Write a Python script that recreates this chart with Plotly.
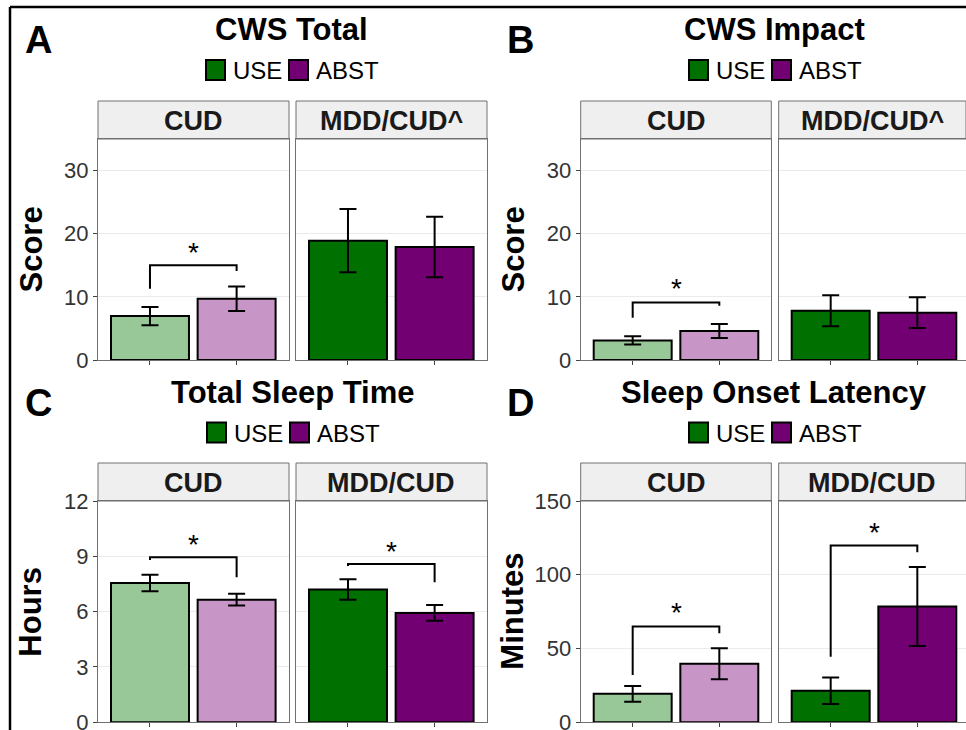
import plotly.graph_objects as go

W, H = 966, 730
FONT = "Liberation Sans, Arial, sans-serif"

# ---- data -------------------------------------------------------------
groups = ["USE", "ABST"]
x_pos = [1, 2]

# Panel A: CWS Total (score)
cws_total_cud = [6.95, 9.7]
cws_total_cud_se = [1.45, 1.95]
cws_total_mdd = [18.9, 17.9]
cws_total_mdd_se = [5.0, 4.8]

# Panel B: CWS Impact (score)
cws_impact_cud = [3.1, 4.6]
cws_impact_cud_se = [0.65, 1.1]
cws_impact_mdd = [7.8, 7.5]
cws_impact_mdd_se = [2.45, 2.45]

# Panel C: Total Sleep Time (hours)
tst_cud = [7.55, 6.65]
tst_cud_se = [0.45, 0.32]
tst_mdd = [7.2, 5.93]
tst_mdd_se = [0.56, 0.43]

# Panel D: Sleep Onset Latency (minutes)
sol_cud = [19.3, 39.7]
sol_cud_se = [5.3, 10.5]
sol_mdd = [21.4, 78.5]
sol_mdd_se = [9.0, 26.7]

# significance brackets: (left leg end, bar height, right leg end, star y)
sig_a_cud = [11.3, 15.0, 14.1, 18.0]
sig_b_cud = [6.7, 9.1, 8.6, 12.2]
sig_c_cud = [8.8, 8.95, 7.87, 9.95]
sig_c_mdd = [8.48, 8.59, 7.6, 9.6]
sig_d_cud = [32.1, 64.9, 60.4, 78.5]
sig_d_mdd = [44.5, 119.8, 115.3, 132.7]

y_ticks_score = [0, 10, 20, 30]
y_ticks_hours = [0, 3, 6, 9, 12]
y_ticks_min = [0, 50, 100, 150]

# ---- styling ----------------------------------------------------------
light_cols = ["#99C898", "#C896C6"]
dark_cols = ["#007000", "#730073"]
key_cols = dark_cols

def px(x):
    return x / W

def py(y):
    return 1 - y / H

col_left = [(98, 289), (296, 487)]
col_right = [(580.7, 771.3), (778.7, 966)]
row_top = (139, 360)
row_bot = (501, 722.3)
row_shift = 362.5

panels = [
    dict(letter="A", title="CWS Total", ylab="Score", strips=["CUD", "MDD/CUD^"],
         yr=[0, 35], ticks=y_ticks_score, cols=col_left, row=row_top, shift=0,
         vals=[(cws_total_cud, cws_total_cud_se), (cws_total_mdd, cws_total_mdd_se)],
         sig=[sig_a_cud, None], letter_x=38, title_x=291, ylab_x=31),
    dict(letter="B", title="CWS Impact", ylab="Score", strips=["CUD", "MDD/CUD^"],
         yr=[0, 35], ticks=y_ticks_score, cols=col_right, row=row_top, shift=0,
         vals=[(cws_impact_cud, cws_impact_cud_se), (cws_impact_mdd, cws_impact_mdd_se)],
         sig=[sig_b_cud, None], letter_x=520, title_x=774, ylab_x=513),
    dict(letter="C", title="Total Sleep Time", ylab="Hours", strips=["CUD", "MDD/CUD"],
         yr=[0, 12], ticks=y_ticks_hours, cols=col_left, row=row_bot, shift=row_shift,
         vals=[(tst_cud, tst_cud_se), (tst_mdd, tst_mdd_se)],
         sig=[sig_c_cud, sig_c_mdd], letter_x=38, title_x=292, ylab_x=31),
    dict(letter="D", title="Sleep Onset Latency", ylab="Minutes", strips=["CUD", "MDD/CUD"],
         yr=[0, 150], ticks=y_ticks_min, cols=col_right, row=row_bot, shift=row_shift,
         vals=[(sol_cud, sol_cud_se), (sol_mdd, sol_mdd_se)],
         sig=[sig_d_cud, sig_d_mdd], letter_x=520, title_x=774, ylab_x=513),
]

UNIT_PX = 190.6 / 2.2  # pixels per x unit within one facet

fig = go.Figure()
layout = dict(
    width=W, height=H, autosize=False,
    margin=dict(l=0, r=0, t=0, b=0, pad=0, autoexpand=False),
    paper_bgcolor="white", plot_bgcolor="white", showlegend=False,
    font=dict(family=FONT, color="#1A1A1A"),
)
annotations = []
shapes = []

ax = 0
for p in panels:
    top, bot = p["row"]
    s = p["shift"]
    for j, (x0, x1) in enumerate(p["cols"]):
        ax += 1
        xa = "x" if ax == 1 else f"x{ax}"
        ya = "y" if ax == 1 else f"y{ax}"
        means, ses = p["vals"][j]
        cols = light_cols if j == 0 else dark_cols
        fig.add_trace(go.Bar(
            x=x_pos, y=means, width=0.9, xaxis=xa, yaxis=ya,
            marker=dict(color=cols, line=dict(color="black", width=2)),
            error_y=dict(type="data", array=ses, color="black", thickness=2, width=8.5),
            hoverinfo="skip",
        ))
        sig = p["sig"][j]
        if sig is not None:
            fig.add_trace(go.Scatter(
                x=[x_pos[0], x_pos[0], x_pos[1], x_pos[1]],
                y=[sig[0], sig[1], sig[1], sig[2]],
                mode="lines", line=dict(color="black", width=2),
                xaxis=xa, yaxis=ya, hoverinfo="skip",
            ))
            annotations.append(dict(
                x=(x_pos[0] + x_pos[1]) / 2, y=sig[3], xref=xa, yref=ya,
                text="*", showarrow=False, yshift=-6,
                font=dict(family=FONT, size=28, color="black"),
            ))
        xr_end = 0.4 + (x1 - x0) / UNIT_PX
        layout["xaxis" if ax == 1 else f"xaxis{ax}"] = dict(
            domain=[px(x0), px(x1)], range=[0.4, xr_end], anchor=ya,
            showgrid=False, zeroline=False, showline=True, mirror=True,
            linecolor="#707070", linewidth=1, automargin=False,
            ticks="outside", tickvals=x_pos, ticklen=4, tickcolor="#444",
            showticklabels=False, fixedrange=True,
        )
        layout["yaxis" if ax == 1 else f"yaxis{ax}"] = dict(
            domain=[py(bot), py(top)], range=p["yr"], anchor=xa,
            tickvals=p["ticks"], showgrid=True, gridcolor="#EBEBEB", gridwidth=1,
            zeroline=False, showline=True, mirror=True, automargin=False,
            linecolor="#707070", linewidth=1,
            ticks="outside" if j == 0 else "", ticklen=4, tickcolor="#444",
            showticklabels=(j == 0), ticklabeloverflow="allow",
            tickfont=dict(family=FONT, size=22, color="#333333"),
            fixedrange=True,
        )
        # facet strip
        st0, st1 = top - 38, top
        shapes.append(dict(
            type="rect", xref="paper", yref="paper",
            x0=px(x0), x1=px(x1), y0=py(st1), y1=py(st0),
            fillcolor="#EFEFEF", line=dict(color="#707070", width=1), layer="below",
        ))
        annotations.append(dict(
            x=px((x0 + min(x1, x0 + 190.6)) / 2), y=py((st0 + st1) / 2 + 1),
            xref="paper", yref="paper", text=p["strips"][j], showarrow=False,
            xanchor="center", yanchor="middle",
            font=dict(family=FONT, size=27, color="#1A1A1A", weight="bold"),
        ))

    # panel letter, title, y-axis title
    annotations.append(dict(
        x=px(p["letter_x"]), y=py(40 + s), xref="paper", yref="paper",
        text=p["letter"], showarrow=False, xanchor="center", yanchor="middle",
        font=dict(family=FONT, size=38, color="black", weight="bold"),
    ))
    annotations.append(dict(
        x=px(p["title_x"]), y=py(30 + s), xref="paper", yref="paper",
        text=p["title"], showarrow=False, xanchor="center", yanchor="middle",
        font=dict(family=FONT, size=31, color="black", weight="bold"),
    ))
    annotations.append(dict(
        x=px(p["ylab_x"]), y=py((top + bot) / 2), xref="paper", yref="paper",
        text=p["ylab"], showarrow=False, xanchor="center", yanchor="middle",
        textangle=-90,
        font=dict(family=FONT, size=31, color="black", weight="bold"),
    ))
    # legend: filled keys followed by group names
    key_x = [p["title_x"] - 85, p["title_x"] - 2]
    for k, g in enumerate(groups):
        kx = key_x[k]
        shapes.append(dict(
            type="rect", xref="paper", yref="paper",
            x0=px(kx), x1=px(kx + 19), y0=py(80 + s), y1=py(60 + s),
            fillcolor=key_cols[k], line=dict(color="black", width=2),
        ))
        annotations.append(dict(
            x=px(kx + 25), y=py(71 + s), xref="paper", yref="paper",
            text=g, showarrow=False, xanchor="left", yanchor="middle",
            font=dict(family=FONT, size=24, color="black"),
        ))

# outer frame: top and left edges of the figure border
shapes.append(dict(type="line", xref="paper", yref="paper",
                   x0=px(10), x1=1, y0=py(7), y1=py(7),
                   line=dict(color="black", width=2.5)))
shapes.append(dict(type="line", xref="paper", yref="paper",
                   x0=px(10), x1=px(10), y0=0, y1=py(7),
                   line=dict(color="black", width=2.5)))

layout["annotations"] = annotations
layout["shapes"] = shapes
fig.update_layout(**layout)
fig.write_html("out.html")
